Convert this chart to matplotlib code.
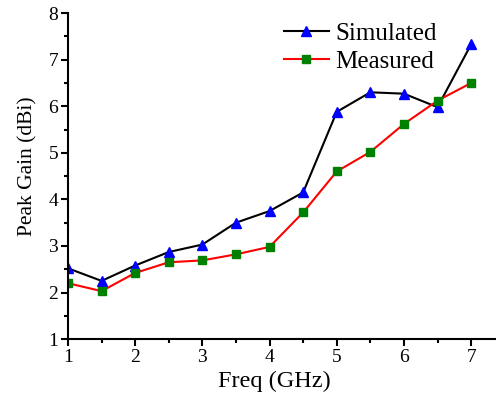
import matplotlib
matplotlib.use('Agg')
import matplotlib.pyplot as plt
from matplotlib.ticker import MultipleLocator

plt.rcParams['font.family'] = ['Liberation Serif', 'DejaVu Serif']

freq = [1, 1.5, 2, 2.5, 3, 3.5, 4, 4.5, 5, 5.5, 6, 6.5, 7]
simulated = [2.52, 2.25, 2.58, 2.87, 3.03, 3.5, 3.75, 4.15, 5.88, 6.3, 6.27, 5.98, 7.33]
measured = [2.2, 2.03, 2.42, 2.65, 2.69, 2.82, 2.98, 3.72, 4.6, 5.02, 5.62, 6.12, 6.5]

fig = plt.figure(figsize=(4.96, 3.98), dpi=100)
ax = fig.add_axes([0.137, 0.148, 0.863, 0.819])

ax.plot(freq, simulated, color='black', lw=1.5, marker='^', ms=7,
        mfc='blue', mec='blue', label='Simulated')
ax.plot(freq, measured, color='red', lw=1.5, marker='s', ms=6,
        mfc='green', mec='green', label='Measured')

ax.set_xlim(1, 7.37)
ax.set_ylim(1, 8)
ax.xaxis.set_major_locator(MultipleLocator(1))
ax.xaxis.set_minor_locator(MultipleLocator(0.5))
ax.yaxis.set_major_locator(MultipleLocator(1))
ax.yaxis.set_minor_locator(MultipleLocator(0.5))
ax.spines['top'].set_visible(False)
ax.spines['right'].set_visible(False)
ax.spines['left'].set_linewidth(1.5)
ax.spines['bottom'].set_linewidth(1.5)
ax.tick_params(which='major', direction='out', length=5, width=1.5,
               labelsize=14, pad=2)
ax.tick_params(which='minor', direction='out', length=3, width=1.5)

ax.set_xlabel('Freq (GHz)', fontsize=17.5)
ax.xaxis.set_label_coords(0.4825, -0.098)
ax.set_ylabel('Peak Gain (dBi)', fontsize=15.5)
ax.yaxis.set_label_coords(-0.071, 0.53)

ax.legend(loc='upper right', bbox_to_anchor=(0.914, 1.04), frameon=False,
          fontsize=18, handlelength=1.8, handletextpad=0.25, labelspacing=0.2)

fig.savefig('out.png', dpi=100)
